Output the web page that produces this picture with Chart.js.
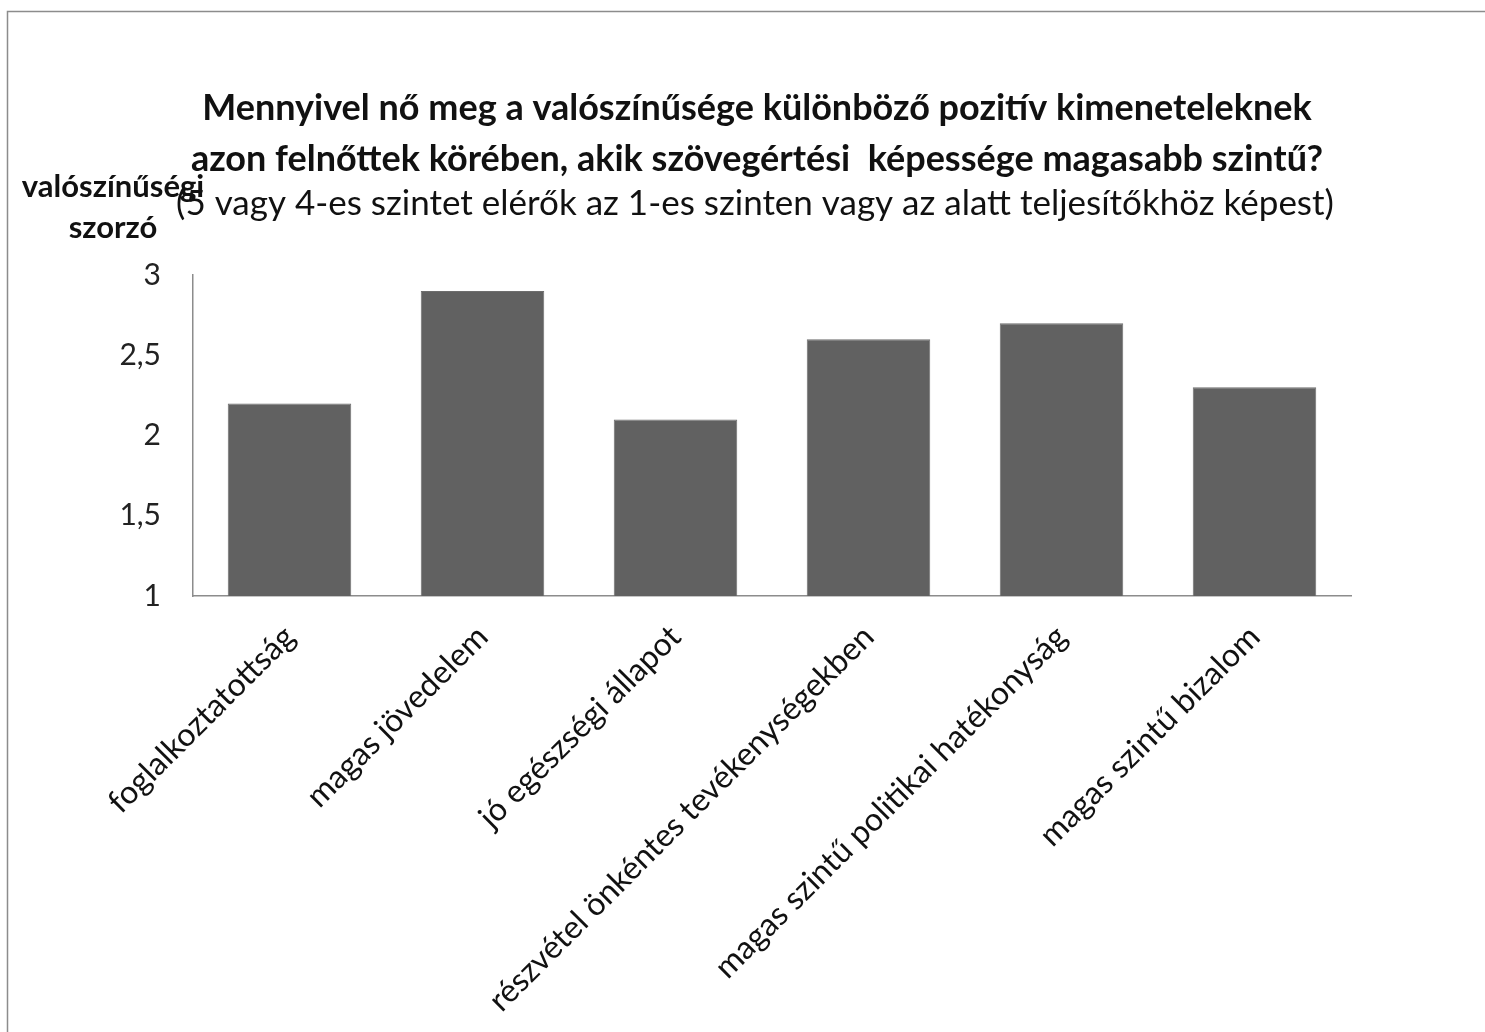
<!DOCTYPE html>
<html><head><meta charset="utf-8">
<script src="https://cdn.jsdelivr.net/npm/chart.js@4"></script>
<style>html,body{margin:0;padding:0;background:#fff}#wrap{width:1485px;height:1032px;position:relative}</style>
</head><body><div id="wrap"><canvas id="c" width="1485" height="1032"></canvas></div>
<script>
const categories = ["foglalkoztatottság","magas jövedelem","jó egészségi állapot","részvétel önkéntes tevékenységekben","magas szintű politikai hatékonyság","magas szintű bizalom"];
const values = [2.2, 2.9, 2.1, 2.6, 2.7, 2.3];
const titleLines = ["Mennyivel nő meg a valószínűsége különböző pozitív kimeneteleknek","azon felnőttek körében, akik szövegértési  képessége magasabb szintű?"];
const subtitleLine = "(5 vagy 4-es szintet elérők az 1-es szinten vagy az alatt teljesítőkhöz képest)";
const yTitleLines = ["valószínűségi","szorzó"];
const yTicks = [1, 1.5, 2, 2.5, 3];

const FONT = "Lato, 'Open Sans', sans-serif";
const deco = {
  id: 'deco',
  beforeDraw(chart){
    const ctx = chart.ctx;
    ctx.save();
    ctx.fillStyle = '#fff';
    ctx.fillRect(0,0,chart.width,chart.height);
    ctx.strokeStyle = '#8c8c8c';
    ctx.lineWidth = 1.5;
    ctx.strokeRect(7.5, 11.5, 1600, 1100);
    ctx.restore();
  },
  afterDraw(chart){
    const ctx = chart.ctx;
    ctx.save();
    ctx.fillStyle = '#111';
    ctx.textAlign = 'center';
    ctx.textBaseline = 'middle';
    ctx.font = "bold 36px " + FONT;
    ctx.fillText(titleLines[0], 757, 108);
    ctx.fillText(titleLines[1], 757, 159);
    ctx.font = "35px " + FONT;
    ctx.fillText(subtitleLine, 755, 204);
    ctx.font = "bold 31px " + FONT;
    ctx.fillText(yTitleLines[0], 113, 187);
    ctx.fillText(yTitleLines[1], 113, 228);
    ctx.restore();
  }
};

new Chart(document.getElementById('c'), {
  type: 'bar',
  data: { labels: categories, datasets: [{ data: values, backgroundColor: '#616161', borderColor: '#6e6e6e', borderWidth: 1, barPercentage: 0.64, categoryPercentage: 1 }] },
  options: {
    responsive: false, animation: false,
    layout: { padding: { left: 0, right: 134, top: 275, bottom: 0 } },
    plugins: { legend: { display: false }, tooltip: { enabled: false } },
    scales: {
      y: {
        min: 1, max: 3,
        afterFit(s){ s.width = 193; },
        afterBuildTicks(s){ s.ticks = yTicks.map(v => ({value: v})); },
        grid: { display: false, drawTicks: false },
        border: { display: true, color: '#8c8c8c', width: 1.5 },
        ticks: { padding: 32, color: '#222', font: { size: 30, family: FONT }, callback: v => String(v).replace('.', ',') }
      },
      x: {
        afterFit(s){ s.height = 436; },
        grid: { display: false, drawTicks: false },
        border: { display: true, color: '#8c8c8c', width: 1.5 },
        ticks: { autoSkip: false, maxRotation: 45, minRotation: 45, padding: 22, color: '#111', font: { size: 32, family: FONT } }
      }
    }
  },
  plugins: [deco]
});
</script></body></html>
